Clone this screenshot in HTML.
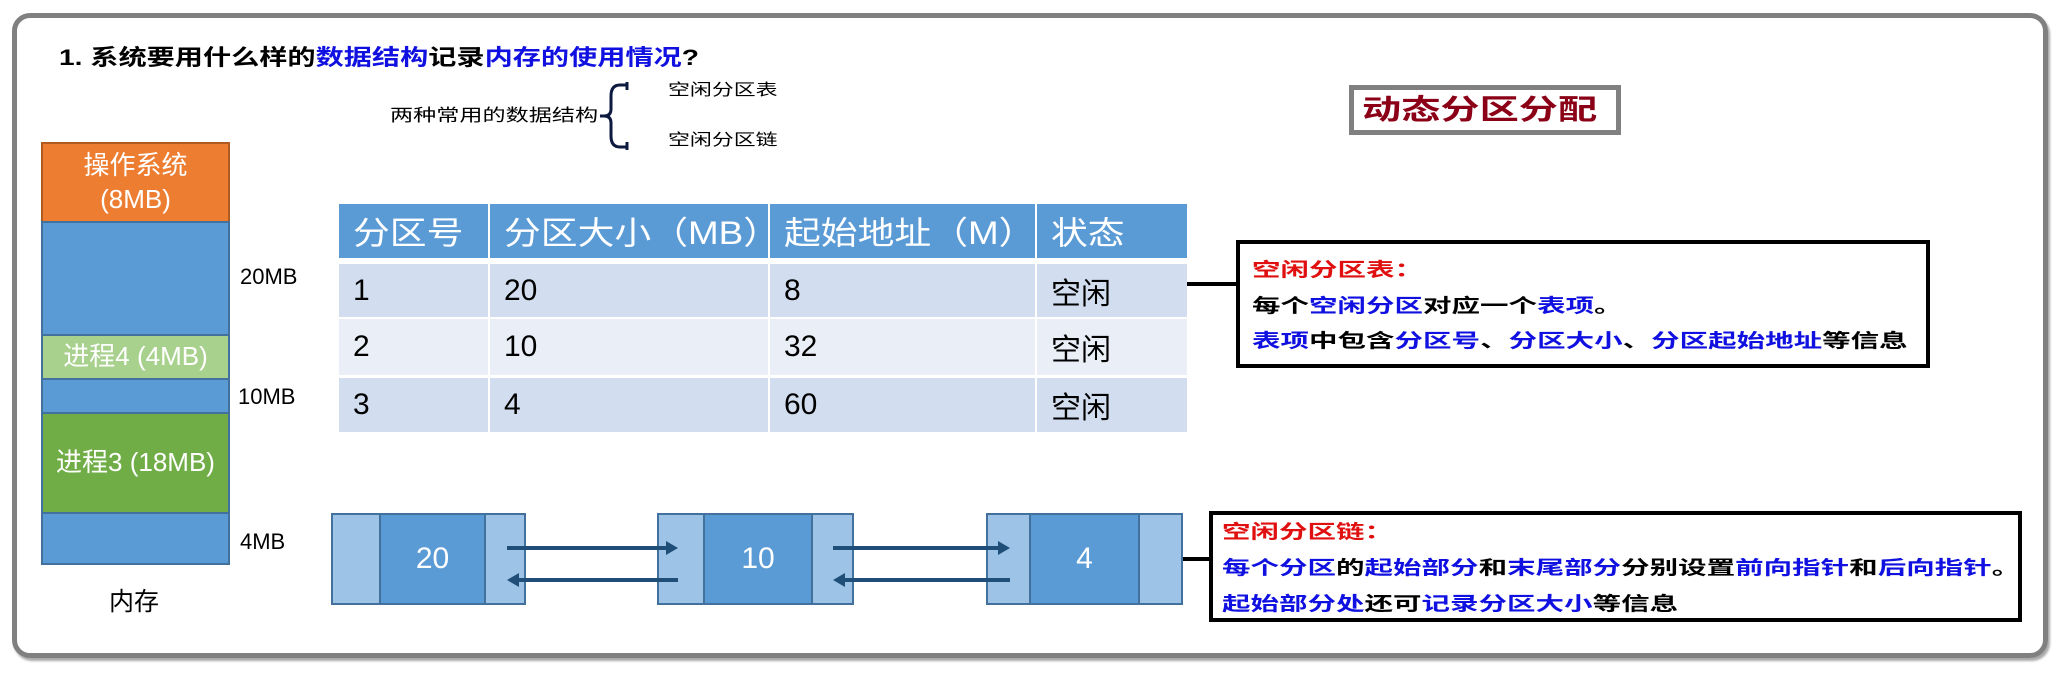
<!DOCTYPE html>
<html><head><meta charset="utf-8"><style>
*{margin:0;padding:0;box-sizing:border-box}
body{width:2061px;height:677px;background:#fff;position:relative;overflow:hidden;font-family:"Liberation Sans","Noto Sans CJK SC",sans-serif}
.a{position:absolute}
.t{position:absolute;white-space:nowrap;line-height:1;transform-origin:0 50%}
.b{color:#1010e0}
.r{color:#e01010}
.seg{position:absolute;left:41px;width:189px;border:2px solid #41719c;color:#fff;text-align:center;font-size:26px;display:flex;align-items:center;justify-content:center;flex-direction:column;line-height:1.3}
.cell{position:absolute;display:flex;align-items:center;padding-left:14px;font-size:30px;color:#000}
.h{background:#5b9bd5;color:#fff;font-size:32px}
.h span{display:inline-block;transform:scaleX(1.15);transform-origin:0 50%}
.n{position:absolute;border:2px solid #41719c;top:513px;height:92px}
.lt{background:#9dc3e6}.dk{background:#5b9bd5;color:#fff;font-size:30px;display:flex;align-items:center;justify-content:center}
.box{position:absolute;border:4px solid #000;background:#fff}
.bx{font-size:19px;font-weight:bold;transform:scaleX(1.5)}
</style></head><body>
<div class="a" style="left:12px;top:13px;width:2036px;height:645px;border:5px solid #808080;border-radius:18px;box-shadow:2px 3px 2px #aaa"></div>

<div class="t" style="left:59px;top:47px;font-size:22px;font-weight:bold;transform:scaleX(1.28)">1. 系统要用什么样的<span class="b">数据结构</span>记录<span class="b">内存的使用情况</span>?</div>

<div class="t" style="left:390px;top:107px;font-size:17px;transform:scaleX(1.36)">两种常用的数据结构</div>
<svg class="a" style="left:600px;top:82px" width="40" height="68"><path d="M0 34 H10 M26 3 H20 Q11 3 11 14 V27 Q11 34 4 34 Q11 34 11 41 V54 Q11 65 20 65 H26 M27 0 V8 M27 60 V68" stroke="#0d1a40" stroke-width="3" fill="none"/></svg>
<div class="t" style="left:668px;top:83px;font-size:16px;transform:scaleX(1.37)">空闲分区表</div>
<div class="t" style="left:668px;top:133px;font-size:16px;transform:scaleX(1.37)">空闲分区链</div>

<div class="a" style="left:1349px;top:85px;width:272px;height:50px;border:5px solid #808080"></div>
<div class="t" style="left:1362px;top:96px;color:#8b0016;font-size:28px;font-weight:bold;transform:scaleX(1.4)">动态分区分配</div>

<div class="seg" style="top:142px;height:81px;background:#ed7d31;border-color:#ae5a21">操作系统<br>(8MB)</div>
<div class="seg" style="top:221px;height:115px;background:#5b9bd5"></div>
<div class="seg" style="top:334px;height:46px;background:#a9d18e;border-color:#41719c">进程4 (4MB)</div>
<div class="seg" style="top:378px;height:36px;background:#5b9bd5"></div>
<div class="seg" style="top:412px;height:102px;background:#70ad47;border-color:#41719c">进程3 (18MB)</div>
<div class="seg" style="top:512px;height:53px;background:#5b9bd5"></div>
<div class="t" style="left:240px;top:266px;font-size:22px">20MB</div>
<div class="t" style="left:238px;top:386px;font-size:22px">10MB</div>
<div class="t" style="left:240px;top:531px;font-size:22px">4MB</div>
<div class="t" style="left:109px;top:590px;font-size:25px">内存</div>

<div class="cell h" style="left:339px;top:204px;width:149px;height:54px"><span>分区号</span></div>
<div class="cell h" style="left:490px;top:204px;width:278px;height:54px"><span>分区大小（MB）</span></div>
<div class="cell h" style="left:770px;top:204px;width:265px;height:54px"><span>起始地址（M）</span></div>
<div class="cell h" style="left:1037px;top:204px;width:150px;height:54px"><span>状态</span></div>

<div class="cell" style="left:339px;top:264px;width:149px;height:53px;background:#d2deef">1</div>
<div class="cell" style="left:490px;top:264px;width:278px;height:53px;background:#d2deef">20</div>
<div class="cell" style="left:770px;top:264px;width:265px;height:53px;background:#d2deef">8</div>
<div class="cell" style="left:1037px;top:264px;width:150px;height:53px;background:#d2deef">空闲</div>

<div class="cell" style="left:339px;top:319px;width:149px;height:56px;background:#eaeff7">2</div>
<div class="cell" style="left:490px;top:319px;width:278px;height:56px;background:#eaeff7">10</div>
<div class="cell" style="left:770px;top:319px;width:265px;height:56px;background:#eaeff7">32</div>
<div class="cell" style="left:1037px;top:319px;width:150px;height:56px;background:#eaeff7">空闲</div>

<div class="cell" style="left:339px;top:378px;width:149px;height:54px;background:#d2deef">3</div>
<div class="cell" style="left:490px;top:378px;width:278px;height:54px;background:#d2deef">4</div>
<div class="cell" style="left:770px;top:378px;width:265px;height:54px;background:#d2deef">60</div>
<div class="cell" style="left:1037px;top:378px;width:150px;height:54px;background:#d2deef">空闲</div>

<div class="a" style="left:1187px;top:282px;width:50px;height:4px;background:#000"></div>
<div class="box" style="left:1236px;top:240px;width:694px;height:128px">
<div class="t bx r" style="left:12px;top:17px">空闲分区表：</div>
<div class="t bx" style="left:12px;top:53px">每个<span class="b">空闲分区</span>对应一个<span class="b">表项</span>。</div>
<div class="t bx" style="left:12px;top:88px"><span class="b">表项</span>中包含<span class="b">分区号</span>、<span class="b">分区大小</span>、<span class="b">分区起始地址</span>等信息</div>
</div>

<div class="n lt" style="left:331px;width:50px"></div>
<div class="n dk" style="left:379px;width:107px">20</div>
<div class="n lt" style="left:484px;width:42px"></div>
<div class="n lt" style="left:657px;width:48px"></div>
<div class="n dk" style="left:703px;width:110px">10</div>
<div class="n lt" style="left:811px;width:43px"></div>
<div class="n lt" style="left:986px;width:45px"></div>
<div class="n dk" style="left:1029px;width:111px">4</div>
<div class="n lt" style="left:1138px;width:45px"></div>

<svg class="a" style="left:0;top:0" width="2061" height="677">
<g stroke="#1f4e79" stroke-width="4" fill="#1f4e79">
<line x1="507" y1="548" x2="668" y2="548"/><path d="M678 548 L666 541 L666 555Z" stroke="none"/>
<line x1="678" y1="580" x2="517" y2="580"/><path d="M507 580 L519 573 L519 587Z" stroke="none"/>
<line x1="833" y1="548" x2="1000" y2="548"/><path d="M1010 548 L998 541 L998 555Z" stroke="none"/>
<line x1="1010" y1="580" x2="843" y2="580"/><path d="M833 580 L845 573 L845 587Z" stroke="none"/>
</g>
</svg>

<div class="a" style="left:1183px;top:557px;width:28px;height:4px;background:#000"></div>
<div class="box" style="left:1209px;top:511px;width:813px;height:111px">
<div class="t bx r" style="left:9px;top:8px">空闲分区链：</div>
<div class="t bx" style="left:9px;top:44px"><span class="b">每个分区</span>的<span class="b">起始部分</span>和<span class="b">末尾部分</span>分别设置<span class="b">前向指针</span>和<span class="b">后向指针</span>。</div>
<div class="t bx" style="left:9px;top:80px"><span class="b">起始部分处</span>还可<span class="b">记录分区大小</span>等信息</div>
</div>
</body></html>
